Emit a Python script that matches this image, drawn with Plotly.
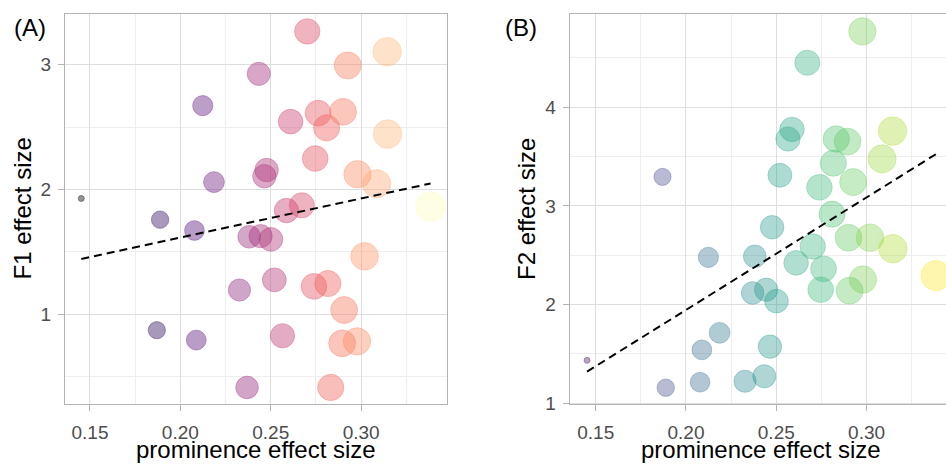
import numpy as np
import plotly.graph_objects as go
from plotly.colors import sample_colorscale

# ---- data ----
prominence = [0.1452, 0.1870, 0.1888, 0.2078, 0.2088, 0.2124, 0.2186, 0.2327,
              0.2369, 0.2381, 0.2434, 0.2444, 0.2465, 0.2477, 0.2501, 0.2520,
              0.2565, 0.2587, 0.2610, 0.2672, 0.2702, 0.2739, 0.2746, 0.2762,
              0.2809, 0.2816, 0.2832, 0.2895, 0.2900, 0.2906, 0.2926, 0.2977,
              0.2980, 0.3019, 0.3086, 0.3144, 0.3146, 0.3384]
f1_effect = [1.928, 0.872, 1.758, 1.671, 0.793, 2.672, 2.059, 1.194,
             0.413, 1.621, 2.927, 1.626, 2.106, 2.156, 1.600, 1.275,
             0.827, 1.831, 2.544, 1.873, 3.267, 1.223, 2.248, 2.612,
             2.494, 1.246, 0.413, 0.767, 2.623, 1.034, 2.995, 0.782,
             2.122, 1.464, 2.046, 3.105, 2.444, 1.862]
f2_effect = [1.434, 3.294, 1.156, 1.212, 1.540, 2.478, 1.713, 1.222,
             2.117, 2.488, 1.272, 2.150, 1.573, 2.783, 2.034, 3.310,
             3.678, 3.775, 2.422, 4.451, 2.588, 3.188, 2.150, 2.362,
             2.916, 3.433, 3.678, 3.652, 2.677, 2.140, 3.241, 4.769,
             2.253, 2.677, 3.476, 3.758, 2.565, 2.293]

x_ticks = [0.15, 0.20, 0.25, 0.30]
x_tick_labels = ["0.15", "0.20", "0.25", "0.30"]
f1_ticks = [1, 2, 3]
f2_ticks = [1, 2, 3, 4]
panel_labels = ["(A)", "(B)"]
x_title = "prominence effect size"
y_titles = ["F1 effect size", "F2 effect size"]

# ---- styling ----
W, H = 946, 470
FONT = "Liberation Sans, Arial, Helvetica, sans-serif"

x = np.array(prominence)
t = (x - x.min()) / (x.max() - x.min())
sizes = 6 + 24 * np.sqrt(t)  # area-type size scale


def rgba(cols, a):
    out = []
    for c in cols:
        r, g, b = [int(float(v)) for v in c[c.index("(") + 1:-1].split(",")]
        out.append(f"rgba({r},{g},{b},{a})")
    return out


magma = rgba(sample_colorscale("Magma", list(t ** 1.15)), 0.6)
viridis = rgba(sample_colorscale("Viridis", list(t)), 0.52)

fig = go.Figure()

for i, (yv, cols) in enumerate([(f1_effect, magma), (f2_effect, viridis)]):
    xa = "x" if i == 0 else "x2"
    ya = "y" if i == 0 else "y2"
    fig.add_trace(go.Scatter(
        x=prominence, y=yv, mode="markers", xaxis=xa, yaxis=ya,
        marker=dict(size=sizes, color=cols, line=dict(color=cols, width=1)),
        showlegend=False, hoverinfo="skip"))
    slope, icpt = np.polyfit(x, np.array(yv), 1)
    xl = np.array([x.min(), x.max()])
    fig.add_trace(go.Scatter(
        x=xl, y=slope * xl + icpt, mode="lines", xaxis=xa, yaxis=ya,
        line=dict(color="black", width=2, dash="8px,5px"),
        showlegend=False, hoverinfo="skip"))

y_dom = [1 - 412.3 / H, 1 - 14 / H]
common_axis = dict(
    showline=True, linecolor="#B3B3B3", linewidth=1,
    ticks="outside", ticklen=6, tickcolor="#B3B3B3", tickwidth=1,
    tickfont=dict(family=FONT, size=19, color="#4D4D4D"),
    showgrid=True, gridcolor="#DEDEDE", gridwidth=1,
    zeroline=False, fixedrange=True,
)
xa_extra = dict(ticklabelstandoff=5)
ya_extra = dict(ticklabelstandoff=3)

fig.update_layout(
    width=W, height=H,
    margin=dict(l=0, r=0, t=0, b=0),
    paper_bgcolor="white", plot_bgcolor="white",
    font=dict(family=FONT),
    xaxis=dict(common_axis, **xa_extra, domain=[65 / W, 447 / W], range=[0.1362, 0.3475],
               tickvals=x_ticks, ticktext=x_tick_labels, mirror=True,
               minor=dict(showgrid=True, gridcolor="#EEEEEE", gridwidth=1,
                          tickvals=[0.175, 0.225, 0.275, 0.325])),
    yaxis=dict(common_axis, **ya_extra, domain=y_dom, range=[0.277, 3.409],
               tickvals=f1_ticks, ticktext=[str(v) for v in f1_ticks], mirror=True,
               minor=dict(showgrid=True, gridcolor="#EEEEEE", gridwidth=1,
                          tickvals=[0.5, 1.5, 2.5])),
    xaxis2=dict(common_axis, **xa_extra, domain=[569.7 / W, 1.0], range=[0.1356, 0.3440],
                tickvals=x_ticks, ticktext=x_tick_labels, mirror=True, anchor="y2",
                minor=dict(showgrid=True, gridcolor="#EEEEEE", gridwidth=1,
                           tickvals=[0.175, 0.225, 0.275, 0.325])),
    yaxis2=dict(common_axis, **ya_extra, domain=y_dom, range=[0.987, 4.948], anchor="x2",
                tickvals=f2_ticks, ticktext=[str(v) for v in f2_ticks], mirror=False,
                minor=dict(showgrid=True, gridcolor="#EEEEEE", gridwidth=1,
                           tickvals=[1.5, 2.5, 3.5, 4.5])),
)

ann = []
for lab, px in zip(panel_labels, [30, 520.5]):
    ann.append(dict(text=lab, x=px / W, y=1 - 28 / H, xref="paper", yref="paper",
                    xanchor="center", yanchor="middle", showarrow=False,
                    font=dict(family=FONT, size=24, color="black")))
for px in [256, 760.7]:
    ann.append(dict(text=x_title, x=px / W, y=1 - 458 / H, xref="paper", yref="paper",
                    xanchor="center", yanchor="middle", showarrow=False,
                    font=dict(family=FONT, size=24, color="black")))
for lab, px in zip(y_titles, [22.5, 527]):
    ann.append(dict(text=lab, x=px / W, y=1 - 213 / H, xref="paper", yref="paper",
                    xanchor="center", yanchor="middle", showarrow=False, textangle=-90,
                    font=dict(family=FONT, size=24, color="black")))
fig.update_layout(annotations=ann)

fig.write_html("out.html", config={"displayModeBar": False},
               post_script="document.body.style.margin='0px';"
                           "document.body.style.overflow='hidden';")
